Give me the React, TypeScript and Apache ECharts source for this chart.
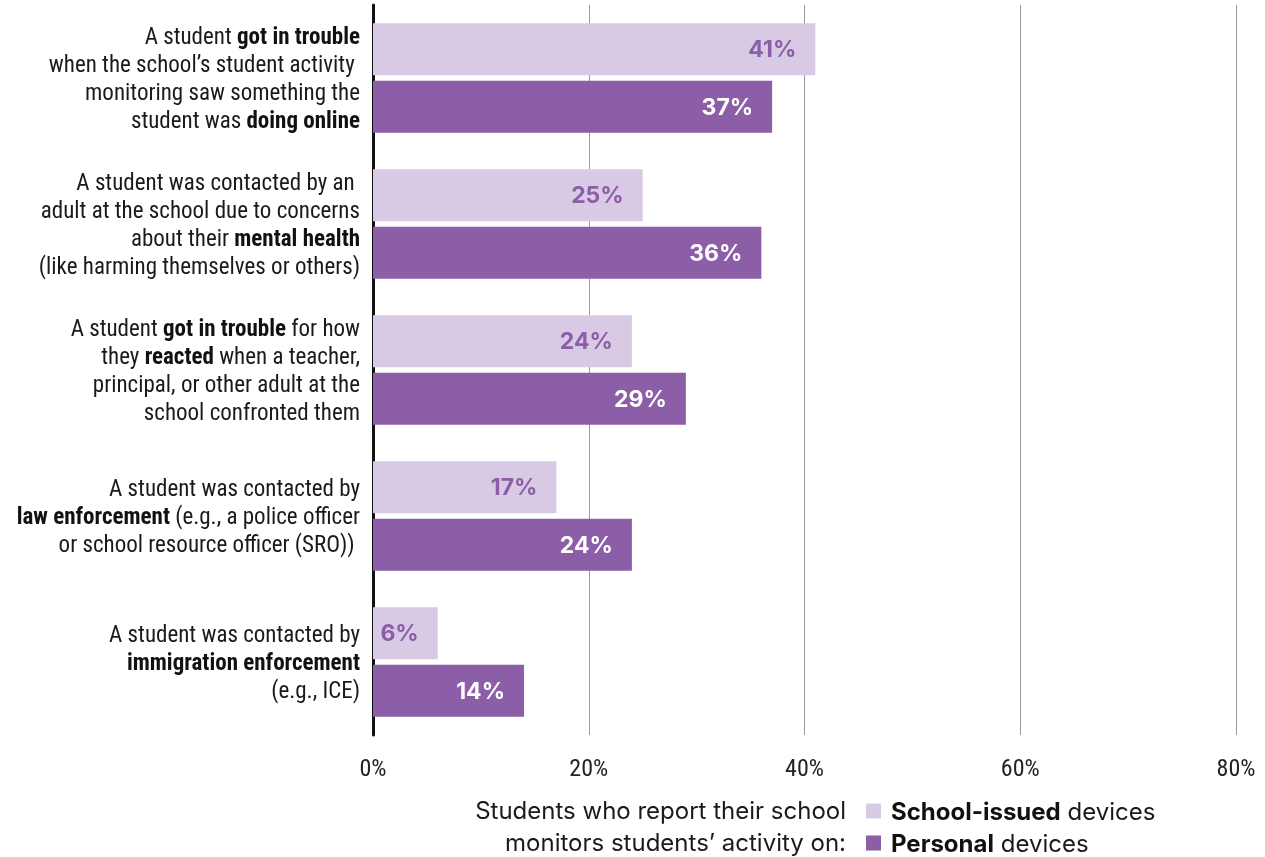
import React, { useEffect, useRef } from "react";
import * as echarts from "echarts";

const categories = [
  "A student {b|got in trouble}\nwhen the school’s student activity \nmonitoring saw something the\nstudent was {b|doing online}",
  "A student was contacted by an \nadult at the school due to concerns\nabout their {b|mental health}\n(like harming themselves or others)",
  "A student {b|got in trouble} for how\nthey {b|reacted} when a teacher,\nprincipal, or other adult at the\nschool confronted them",
  "A student was contacted by\n{b|law enforcement} (e.g., a police officer\nor school resource officer (SRO)) ",
  "A student was contacted by\n{b|immigration enforcement}\n(e.g., ICE)",
];
const schoolIssued = [41, 25, 24, 17, 6];
const personal = [37, 36, 29, 24, 14];
const xTicks = [0, 20, 40, 60, 80];
const seriesNames = ["School-issued devices", "Personal devices"];
const legendTitle = ["Students who report their school", "monitors students’ activity on:"];

const COND = "'Roboto Condensed', 'Liberation Sans Narrow', 'Arial Narrow', Roboto, sans-serif";
const WIDE = "Inter, Roboto, 'Noto Sans', sans-serif";
const LIGHT = "#d8cae4";
const DARK = "#8b5ea7";

export default function App() {
  const ref = useRef<HTMLDivElement>(null);
  useEffect(() => {
    const chart = echarts.init(ref.current!, null, { renderer: "svg" });
    chart.setOption({
      animation: false,
      grid: { left: 373, right: 29, top: 5, height: 730, containLabel: false },
      xAxis: {
        type: "value",
        min: xTicks[0],
        max: xTicks[xTicks.length - 1],
        interval: 20,
        axisLine: { show: false },
        axisTick: { show: false },
        splitLine: { lineStyle: { color: "#9a9a9a", width: 1 } },
        axisLabel: {
          formatter: (v: number) => v + "%",
          fontFamily: COND,
          fontSize: 24,
          color: "#222",
          margin: 21,
        },
      },
      yAxis: {
        type: "category",
        inverse: true,
        data: categories,
        axisLine: { lineStyle: { color: "#111", width: 3 } },
        axisTick: { show: false },
        axisLabel: {
          margin: 13,
          align: "right",
          fontFamily: COND,
          fontSize: 23,
          lineHeight: 28,
          color: "#1a1a1a",
          rich: {
            b: { fontFamily: COND, fontSize: 23, lineHeight: 28, fontWeight: "bold", color: "#111", align: "right" },
          },
        },
      },
      legend: {
        orient: "vertical",
        left: 866,
        top: 798,
        padding: 0,
        icon: "rect",
        itemWidth: 15,
        itemHeight: 15,
        itemGap: 6,
        selectedMode: false,
        data: seriesNames,
        formatter: (name: string) =>
          name === seriesNames[0] ? "{b|School-issued} devices" : "{b|Personal} devices",
        textStyle: {
          fontFamily: WIDE,
          fontSize: 24,
          lineHeight: 26,
          color: "#1a1a1a",
          padding: [0, 0, 0, 5],
          rich: { b: { fontFamily: WIDE, fontSize: 24, lineHeight: 26, fontWeight: "bold", color: "#111" } },
        },
      },
      graphic: legendTitle.map((t, i) => ({
        type: "text",
        x: 846,
        y: 810 + i * 32,
        style: {
          text: t,
          fontFamily: WIDE,
          fontSize: 24,
          lineHeight: 26,
          fill: "#1a1a1a",
          align: "right",
          verticalAlign: "middle",
        },
      })),
      series: [
        {
          name: seriesNames[0],
          type: "bar",
          data: schoolIssued,
          barWidth: 52,
          barGap: "11%",
          itemStyle: { color: LIGHT },
          label: {
            show: true,
            position: "insideRight",
            distance: 19,
            formatter: "{c}%",
            fontFamily: WIDE,
            fontWeight: "bold",
            fontSize: 23,
            color: DARK,
          },
        },
        {
          name: seriesNames[1],
          type: "bar",
          data: personal,
          barWidth: 52,
          itemStyle: { color: DARK },
          label: {
            show: true,
            position: "insideRight",
            distance: 19,
            formatter: "{c}%",
            fontFamily: WIDE,
            fontWeight: "bold",
            fontSize: 23,
            color: "#fff",
          },
        },
      ],
    });
    return () => chart.dispose();
  }, []);
  return <div ref={ref} style={{ position: "fixed", left: 0, top: 0, width: 1265, height: 857 }} />;
}
